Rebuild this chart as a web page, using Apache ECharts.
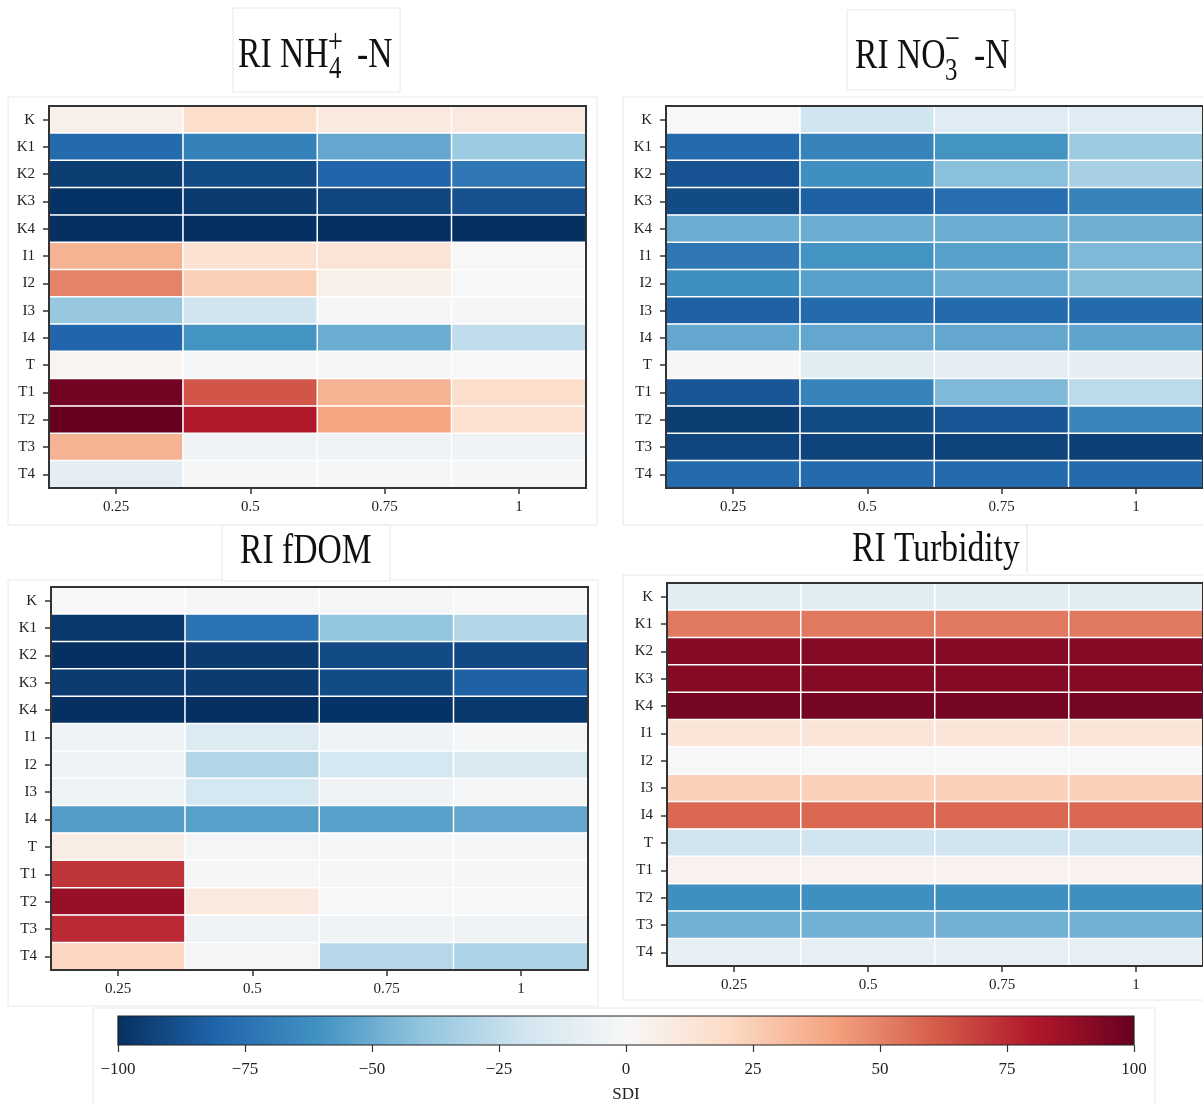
<!DOCTYPE html>
<html>
<head>
<meta charset="utf-8">
<script src="https://cdn.jsdelivr.net/npm/echarts@6/dist/echarts.min.js"></script>
<style>
html,body{margin:0;padding:0;background:#fff;}
#chart{width:1203px;height:1104px;}
</style>
</head>
<body>
<div id="chart"></div>
<script>
// ---------------- data ----------------
const rows = ['K','K1','K2','K3','K4','I1','I2','I3','I4','T','T1','T2','T3','T4'];
const cols = ['0.25','0.5','0.75','1'];

// SDI values, one row per site, columns = 0.25, 0.5, 0.75, 1
const nh4 = [
  [5, 18, 10, 10],
  [-78, -68, -52, -37],
  [-95, -90, -80, -72],
  [-99, -96, -92, -88],
  [-100, -100, -100, -100],
  [35, 15, 14, 0],
  [50, 25, 6, 0],
  [-38, -20, -1, -1],
  [-80, -60, -50, -25],
  [2, -1, -1, 0],
  [97, 63, 35, 18],
  [100, 80, 40, 16],
  [35, -4, -4, -4],
  [-10, -1, -1, -1]
];
const no3 = [
  [0, -20, -12, -12],
  [-78, -67, -60, -37],
  [-87, -62, -42, -33],
  [-90, -82, -76, -67],
  [-50, -50, -50, -49],
  [-72, -60, -55, -45],
  [-62, -55, -50, -43],
  [-82, -78, -78, -78],
  [-52, -52, -52, -53],
  [1, -11, -10, -10],
  [-86, -67, -45, -27],
  [-95, -90, -86, -66],
  [-92, -93, -93, -94],
  [-78, -78, -78, -78]
];
const fdom = [
  [0, -1, -1, 0],
  [-97, -74, -40, -30],
  [-100, -96, -90, -91],
  [-96, -96, -90, -82],
  [-100, -100, -99, -97],
  [-4, -14, -5, -1],
  [-5, -30, -18, -15],
  [-5, -18, -4, -1],
  [-56, -55, -55, -52],
  [8, -2, -1, -1],
  [72, -1, -1, -1],
  [87, 10, 0, 0],
  [75, -4, -4, -4],
  [22, -2, -29, -32]
];
const turb = [
  [-11, -11, -11, -11],
  [53, 53, 53, 53],
  [92, 92, 92, 92],
  [92, 92, 92, 92],
  [96, 96, 96, 96],
  [13, 13, 13, 13],
  [0, 0, 0, 0],
  [24, 24, 24, 24],
  [58, 58, 58, 58],
  [-20, -20, -20, -20],
  [4, 4, 4, 4],
  [-62, -62, -62, -62],
  [-48, -48, -48, -48],
  [-9, -9, -9, -9]
];
const cbRange = [-100, 100];
const cbTickStep = 25;
const cbName = 'SDI';

// RdBu_r colormap
const rdbu = ['#053061','#2166ac','#4393c3','#92c5de','#d1e5f0','#f7f7f7','#fddbc7','#f4a582','#d6604d','#b2182b','#67001f'];

// ---------------- layout ----------------
const FONT = '"Liberation Serif", "Times New Roman", serif';
const panels = [
  {data: nh4,  left: 49,  top: 106, width: 537, height: 382},
  {data: no3,  left: 666, top: 106, width: 540, height: 382},
  {data: fdom, left: 51,  top: 587, width: 537, height: 383},
  {data: turb, left: 667, top: 583, width: 540, height: 383}
];

const grids = [], xAxes = [], yAxes = [], series = [];
panels.forEach((p, i) => {
  grids.push({left: p.left, top: p.top, width: p.width, height: p.height,
    show: true, z: 10, backgroundColor: 'transparent', borderColor: '#333', borderWidth: 2});
  xAxes.push({type: 'category', gridIndex: i, data: cols, z: 10,
    axisLine: {show: true, lineStyle: {color: '#333', width: 2}},
    axisTick: {show: true, alignWithLabel: true, length: 6, lineStyle: {color: '#333', width: 1.5}},
    axisLabel: {fontFamily: FONT, fontSize: 15, color: '#222', margin: 12},
    splitLine: {show: false}});
  yAxes.push({type: 'category', gridIndex: i, data: rows, inverse: true, z: 10,
    axisLine: {show: true, lineStyle: {color: '#333', width: 2}},
    axisTick: {show: true, alignWithLabel: true, length: 6, lineStyle: {color: '#333', width: 1.5}},
    axisLabel: {fontFamily: FONT, fontSize: 15, color: '#222', margin: 14},
    splitLine: {show: false}});
  const d = [];
  p.data.forEach((row, r) => row.forEach((v, c) => d.push([c, r, v])));
  series.push({type: 'heatmap', xAxisIndex: i, yAxisIndex: i, data: d,
    itemStyle: {borderColor: '#ffffff', borderWidth: 1.5},
    emphasis: {disabled: true}, silent: true, progressive: 0});
});

// colorbar grid
grids.push({left: 118, top: 1016, width: 1016, height: 36, show: false});
xAxes.push({type: 'value', gridIndex: 4, min: cbRange[0], max: cbRange[1], interval: cbTickStep, z: 10,
  name: cbName, nameLocation: 'middle', nameGap: 41,
  nameTextStyle: {fontFamily: FONT, fontSize: 17, color: '#222'},
  axisLine: {show: false},
  axisTick: {show: true, length: 7, lineStyle: {color: '#333', width: 1.2}},
  axisLabel: {fontFamily: FONT, fontSize: 17, color: '#222', margin: 16,
    formatter: v => String(v).replace('-', '\u2212')},
  splitLine: {show: false}});
yAxes.push({type: 'value', gridIndex: 4, min: 0, max: 1, show: false});
const stops = rdbu.map((c, k) => ({offset: k / (rdbu.length - 1), color: c}));
series.push({type: 'custom', xAxisIndex: 4, yAxisIndex: 4, silent: true,
  data: [[cbRange[0], cbRange[1]]],
  encode: {x: [0, 1]},
  renderItem: function (params, api) {
    const p0 = api.coord([api.value(0), 1]);
    const p1 = api.coord([api.value(1), 0]);
    return {type: 'rect',
      shape: {x: p0[0], y: p0[1], width: p1[0] - p0[0], height: p1[1] - p0[1]},
      style: {fill: new echarts.graphic.LinearGradient(0, 0, 1, 0, stops), stroke: '#222', lineWidth: 1.2}};
  }});

// ---------------- titles & frames ----------------
const SX = 0.8;
function txt(x, y, s, size) {
  return {type: 'text', x: x, y: y, scaleX: SX, z: 20,
    style: {text: s, fontFamily: FONT, fontSize: size, fill: '#111', textAlign: 'left', textVerticalAlign: 'middle', verticalAlign: 'middle'}};
}
function box(x, y, w, h) {
  return {type: 'rect', z: -1, shape: {x: x, y: y, width: w, height: h},
    style: {fill: '#fff', stroke: '#e8e8e8', lineWidth: 1}};
}
const graphics = [
  box(8, 97, 589, 428),
  box(623, 97, 590, 428),
  box(8, 580, 590, 426),
  box(623, 575, 590, 425),
  box(93, 1008, 1062, 100),
  box(233, 8, 167, 84),
  box(847, 10, 168, 80),
  box(222, 525, 168, 56),
  {type: 'line', z: -1, shape: {x1: 1027, y1: 524, x2: 1027, y2: 573}, style: {stroke: '#e0e0e0', lineWidth: 1}},
  // RI NH4+ -N
  txt(238, 56, 'RI NH', 42),
  txt(329, 70, '4', 31),
  txt(328, 43, '+', 33),
  txt(357, 56, '-N', 42),
  // RI NO3- -N
  txt(855, 57, 'RI NO', 42),
  txt(945, 72, '3', 31),
  txt(945, 40, '\u2212', 33),
  txt(974, 57, '-N', 42),
  // RI fDOM
  txt(240, 552, 'RI fDOM', 42),
  // RI Turbidity
  txt(852, 550, 'RI Turbidity', 42)
];

const chart = echarts.init(document.getElementById('chart'), null, {renderer: 'canvas'});
chart.setOption({
  animation: false,
  backgroundColor: '#fff',
  grid: grids,
  xAxis: xAxes,
  yAxis: yAxes,
  visualMap: {show: false, type: 'continuous', min: -100, max: 100, seriesIndex: [0, 1, 2, 3],
    inRange: {color: rdbu}},
  series: series,
  graphic: graphics
});
</script>
</body>
</html>
